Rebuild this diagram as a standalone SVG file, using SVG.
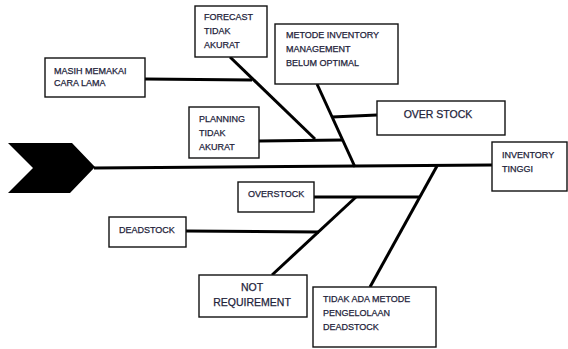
<svg xmlns="http://www.w3.org/2000/svg" width="568" height="349" viewBox="0 0 568 349">
<style>
.box{fill:#fff;stroke:#111;stroke-width:1.4}
.bone{stroke:#000;stroke-width:3;fill:none;stroke-linecap:butt}
text{font-family:"Liberation Sans",Arial,sans-serif;font-size:9px;fill:#23233a;stroke:#23233a;stroke-width:0.25}
.big{font-size:10.5px}
.c{text-anchor:middle}
</style>
<rect width="568" height="349" fill="#fff"/>
<g id="connectors">
<polygon points="8,143 72,143 95,167 70,193 8,193 33,168" fill="#000"/>
<line class="bone" x1="94" y1="168" x2="492" y2="165"/>
<line class="bone" x1="230" y1="57" x2="315" y2="139"/>
<line class="bone" x1="145" y1="79" x2="252" y2="80"/>
<line class="bone" x1="259" y1="141" x2="343" y2="140"/>
<line class="bone" x1="317" y1="84" x2="355" y2="167"/>
<line class="bone" x1="377" y1="115" x2="332" y2="117"/>
<line class="bone" x1="370" y1="287" x2="437" y2="166"/>
<line class="bone" x1="314" y1="197" x2="420" y2="197"/>
<line class="bone" x1="272" y1="275" x2="356" y2="197"/>
<line class="bone" x1="186" y1="231" x2="319" y2="232"/>
</g>
<g id="inventory-tinggi">
<rect class="box" x="492" y="142" width="75" height="49"/>
<text x="502" y="157.5">INVENTORY</text>
<text x="502" y="171.5">TINGGI</text>
</g>
<g id="forecast">
<rect class="box" x="195" y="6" width="72" height="51"/>
<text x="204" y="20">FORECAST</text>
<text x="204" y="33.5">TIDAK</text>
<text x="204" y="47.5">AKURAT</text>
</g>
<g id="metode-inventory">
<rect class="box" x="275" y="24" width="123" height="60"/>
<text x="286" y="37.5">METODE INVENTORY</text>
<text x="286" y="51.5">MANAGEMENT</text>
<text x="286" y="65.5">BELUM OPTIMAL</text>
</g>
<g id="masih-memakai">
<rect class="box" x="45" y="58" width="100" height="39"/>
<text x="54" y="73.5">MASIH MEMAKAI</text>
<text x="54" y="85.5">CARA LAMA</text>
</g>
<g id="planning">
<rect class="box" x="189" y="107" width="70" height="51"/>
<text x="199" y="122">PLANNING</text>
<text x="199" y="136">TIDAK</text>
<text x="199" y="150">AKURAT</text>
</g>
<g id="over-stock">
<rect class="box" x="377" y="101" width="128" height="34"/>
<text class="big c" x="438" y="118">OVER STOCK</text>
</g>
<g id="overstock">
<rect class="box" x="238" y="182" width="76" height="30"/>
<text x="248" y="197">OVERSTOCK</text>
</g>
<g id="deadstock">
<rect class="box" x="109" y="217" width="77" height="30"/>
<text x="119" y="232.5">DEADSTOCK</text>
</g>
<g id="not-requirement">
<rect class="box" x="199" y="275" width="108" height="42"/>
<text class="big c" x="252" y="290.5">NOT</text>
<text class="big c" x="252" y="305.5">REQUIREMENT</text>
</g>
<g id="tidak-ada-metode">
<rect class="box" x="313" y="287" width="123" height="60"/>
<text x="323" y="301.5">TIDAK ADA METODE</text>
<text x="323" y="315.5">PENGELOLAAN</text>
<text x="323" y="329.5">DEADSTOCK</text>
</g>
</svg>
